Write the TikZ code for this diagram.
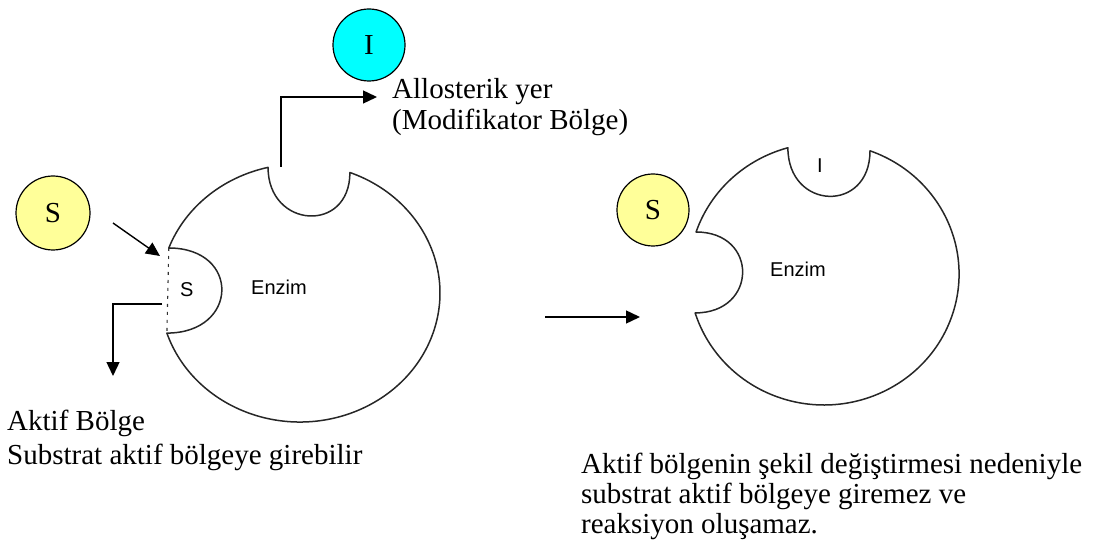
\documentclass[tikz,border=0pt]{standalone}
\usepackage{fontspec}
\setmainfont{Liberation Serif}
\newfontfamily\sansf{Liberation Sans}
\usetikzlibrary{arrows.meta}
\definecolor{subyellow}{RGB}{255,255,153}
\definecolor{inhcyan}{RGB}{0,255,255}
\tikzset{
  body/.style={font=\fontsize{29}{34}\selectfont, inner sep=0pt, anchor=base west},
  smalltxt/.style={font=\sansf\fontsize{20}{24}\selectfont, inner sep=0pt, anchor=base west},
  mol/.style={circle, draw, line width=1.2pt, inner sep=0pt, font=\fontsize{29}{34}\selectfont},
  conn/.style={line width=1.4pt, -{Triangle[length=14pt,width=13pt]}},
  enz/.style={line width=1.5pt, black!85, line join=round},
  mouth/.style={line width=1.1pt, black!80, dash pattern=on 3pt off 5pt}
}
\begin{document}
\begin{tikzpicture}[x=1pt,y=1pt]
\useasboundingbox (0,0) rectangle (1098,539);

% left enzyme
\draw[enz] (349.9,366.5) arc[start angle=69.1, end angle=-161.9, x radius=140, y radius=129]
  .. controls (238.9,205.9) and (240.8,291.0) .. (168.8,291.0)
  arc[start angle=159.6, end angle=103.2, x radius=140, y radius=129]
  .. controls (268.0,310.3) and (349.9,305.2) .. (349.9,366.5) -- cycle;
\coordinate (mouthT) at (168.8,291.0);
\coordinate (mouthB) at (166.9,205.9);
\draw[mouth] (mouthT) -- (mouthB);
\node[smalltxt] (sIn) at (180,243) {S};
\node[smalltxt] (enzL) at (251,244) {Enzim};

% right enzyme
\draw[enz] (870,388.2) arc[start angle=70.1, end angle=-162.7, x radius=135, y radius=131]
  .. controls (757.8,226.0) and (758.8,307.0) .. (696.1,307.0)
  arc[start angle=161.3, end angle=105.5, x radius=135, y radius=131]
  .. controls (787.9,328.5) and (870,325.5) .. (870,388.2) -- cycle;
\node[smalltxt] (iIn) at (817,366) {I};
\node[smalltxt] (enzR) at (770,262) {Enzim};

% molecules
\node[mol, fill=subyellow, minimum size=74pt] (sL) at (53,326) {S};
\node[mol, fill=inhcyan, minimum size=72pt] (iTop) at (369,494) {I};
\node[mol, fill=subyellow, minimum size=72pt] (sR) at (653,329) {S};

% connectors
\coordinate (a1s) at (113,316);
\coordinate (a1e) at (160,283);
\draw[conn] (a1s) -- (a1e);

\coordinate (b0) at (162,235);
\coordinate (b2) at (113,163);
\draw[conn] (b0) -| (b2);

\coordinate (c0) at (281,372);
\coordinate (c1) at (377,442);
\draw[conn] (c0) |- (c1);

\coordinate (m0) at (545,222);
\coordinate (m1) at (640,222);
\draw[conn] (m0) -- (m1);

% texts
\node[body] (t1) at (392,440) {Allosterik yer};
\node[body] (t2) at (392,409) {(Modifikator Bölge)};
\node[body] (t3) at (7,109) {Aktif Bölge};
\node[body] (t4) at (7,75) {Substrat aktif bölgeye girebilir};
\node[body] (t5) at (581,66) {Aktif bölgenin şekil değiştirmesi nedeniyle};
\node[body] (t6) at (581,36) {substrat aktif bölgeye giremez ve};
\node[body] (t7) at (581,6) {reaksiyon oluşamaz.};
\end{tikzpicture}
\end{document}
